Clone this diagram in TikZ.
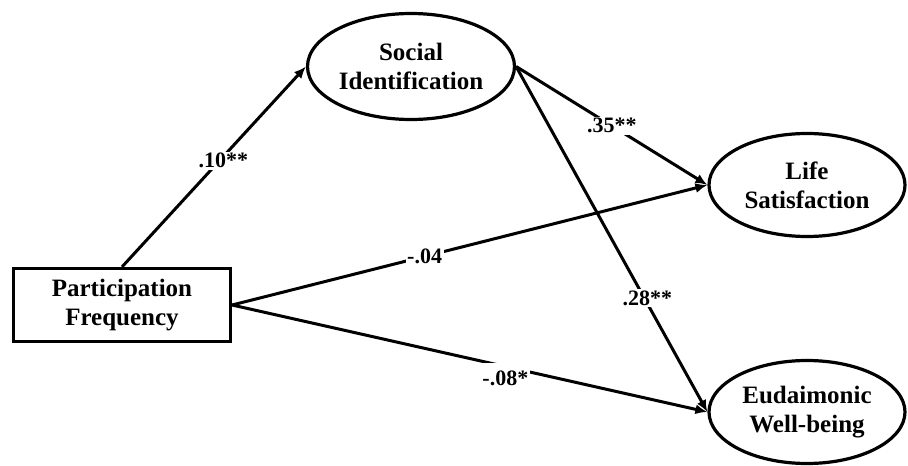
\documentclass[tikz,border=0pt]{standalone}
\usepackage{fontspec}
\setmainfont{Liberation Serif}
\usetikzlibrary{shapes.geometric,arrows.meta}
\begin{document}
\begin{tikzpicture}[x=1pt,y=-1pt,
  txt/.style={font=\bfseries\fontsize{25}{29}\selectfont, align=center},
  latent/.style={ellipse, draw, line width=3.2pt, inner sep=0pt, txt},
  obs/.style={rectangle, draw, line width=3.2pt, inner sep=0pt, txt},
  pathline/.style={line width=3pt, -{Latex[length=12pt,width=10pt]}},
  coef/.style={fill=white, inner sep=1.5pt, font=\bfseries\fontsize{22}{26}\selectfont}]
\useasboundingbox (0,0) rectangle (908,466);
\node[obs, minimum width=217pt, minimum height=73pt] (pf) at (122,305) {Participation\\Frequency};
\node[latent, minimum width=207pt, minimum height=106pt] (si) at (411,66.5) {Social\\Identification};
\node[latent, minimum width=196pt, minimum height=103pt] (ls) at (807,185) {Life\\Satisfaction};
\node[latent, minimum width=196pt, minimum height=103pt] (ew) at (807,412) {Eudaimonic\\Well-being};
\draw[pathline] (pf.north) -- node[coef, pos=0.53, xshift=4pt] {.10**} (si.west);
\draw[pathline] (si.east) -- node[coef, pos=0.5] {.35**} (ls.west);
\draw[pathline] (pf.east) -- node[coef, pos=0.405] {-.04} (ls.west);
\draw[pathline] (si.east) -- node[coef, pos=0.67, xshift=3pt] {.28**} (ew.west);
\draw[pathline] (pf.east) -- node[coef, pos=0.575, yshift=-13pt, minimum height=34pt, text depth=2pt] {-.08*} (ew.west);
\end{tikzpicture}
\end{document}
